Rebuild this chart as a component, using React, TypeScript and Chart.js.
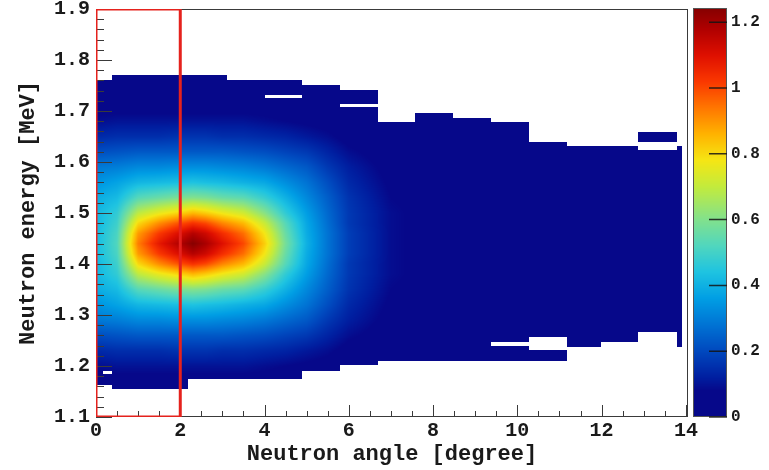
import { useEffect, useRef } from 'react';
import { Chart, registerables } from 'chart.js';

Chart.register(...registerables);

// Sampling nodes of the intensity table
const angleNodes = [0, 0.5, 1, 1.5, 2, 2.3, 2.6, 3, 3.5, 4, 4.5, 5, 5.5, 6, 7, 8, 9, 10, 12, 14];
const energyNodes = [
  1.14, 1.17, 1.2, 1.23, 1.26, 1.29, 1.32, 1.35, 1.38, 1.4, 1.42, 1.44, 1.46,
  1.48, 1.5, 1.53, 1.56, 1.59, 1.62, 1.65, 1.68, 1.71, 1.74, 1.77, 1.8,
];

// Intensity, one row per energy node, one entry per angle node
const intensity = [
  [0.04, 0.04, 0.04, 0.04, 0.04, 0.04, 0.04, 0.04, 0.04, 0.04, 0.03, 0.03, 0.02, 0.02, 0.01, 0.01, 0.00, 0.00, 0.00, 0.00],
  [0.06, 0.06, 0.06, 0.06, 0.06, 0.06, 0.06, 0.06, 0.06, 0.06, 0.05, 0.05, 0.04, 0.02, 0.01, 0.01, 0.01, 0.01, 0.00, 0.00],
  [0.09, 0.10, 0.10, 0.10, 0.10, 0.10, 0.10, 0.10, 0.10, 0.09, 0.08, 0.07, 0.06, 0.04, 0.02, 0.01, 0.01, 0.01, 0.01, 0.01],
  [0.14, 0.15, 0.15, 0.15, 0.16, 0.16, 0.16, 0.15, 0.15, 0.14, 0.13, 0.11, 0.09, 0.06, 0.03, 0.02, 0.02, 0.01, 0.01, 0.01],
  [0.21, 0.22, 0.23, 0.23, 0.23, 0.23, 0.23, 0.23, 0.22, 0.21, 0.19, 0.17, 0.13, 0.09, 0.05, 0.03, 0.03, 0.02, 0.02, 0.02],
  [0.29, 0.30, 0.32, 0.32, 0.33, 0.33, 0.33, 0.32, 0.31, 0.29, 0.26, 0.23, 0.17, 0.12, 0.06, 0.04, 0.03, 0.03, 0.02, 0.02],
  [0.34, 0.37, 0.41, 0.42, 0.43, 0.44, 0.43, 0.42, 0.40, 0.38, 0.33, 0.28, 0.21, 0.14, 0.07, 0.05, 0.04, 0.03, 0.03, 0.02],
  [0.39, 0.42, 0.53, 0.56, 0.59, 0.60, 0.59, 0.56, 0.54, 0.48, 0.40, 0.32, 0.24, 0.16, 0.08, 0.06, 0.05, 0.04, 0.03, 0.03],
  [0.41, 0.47, 0.69, 0.76, 0.81, 0.85, 0.82, 0.77, 0.72, 0.61, 0.47, 0.36, 0.26, 0.17, 0.09, 0.06, 0.05, 0.04, 0.03, 0.03],
  [0.41, 0.49, 0.80, 0.91, 0.99, 1.03, 1.00, 0.92, 0.85, 0.71, 0.53, 0.38, 0.27, 0.17, 0.09, 0.06, 0.05, 0.04, 0.03, 0.03],
  [0.42, 0.51, 0.89, 1.02, 1.11, 1.17, 1.13, 1.04, 0.95, 0.78, 0.56, 0.39, 0.28, 0.18, 0.09, 0.06, 0.05, 0.04, 0.03, 0.03],
  [0.42, 0.52, 0.93, 1.08, 1.18, 1.24, 1.19, 1.10, 1.00, 0.82, 0.58, 0.40, 0.28, 0.18, 0.09, 0.06, 0.05, 0.04, 0.04, 0.03],
  [0.42, 0.51, 0.89, 1.02, 1.11, 1.17, 1.13, 1.04, 0.95, 0.78, 0.56, 0.39, 0.28, 0.18, 0.09, 0.06, 0.05, 0.04, 0.03, 0.03],
  [0.41, 0.49, 0.80, 0.91, 0.99, 1.03, 1.00, 0.92, 0.85, 0.71, 0.53, 0.38, 0.27, 0.17, 0.09, 0.06, 0.05, 0.04, 0.03, 0.03],
  [0.41, 0.47, 0.69, 0.76, 0.81, 0.85, 0.82, 0.77, 0.72, 0.61, 0.47, 0.36, 0.26, 0.17, 0.09, 0.06, 0.05, 0.04, 0.03, 0.03],
  [0.39, 0.42, 0.53, 0.56, 0.59, 0.60, 0.59, 0.56, 0.54, 0.48, 0.40, 0.32, 0.24, 0.16, 0.08, 0.06, 0.05, 0.04, 0.03, 0.03],
  [0.34, 0.37, 0.41, 0.42, 0.43, 0.44, 0.43, 0.42, 0.40, 0.38, 0.33, 0.28, 0.21, 0.14, 0.07, 0.05, 0.04, 0.03, 0.03, 0.02],
  [0.29, 0.30, 0.32, 0.32, 0.33, 0.33, 0.33, 0.32, 0.31, 0.29, 0.26, 0.23, 0.17, 0.12, 0.06, 0.04, 0.03, 0.03, 0.02, 0.02],
  [0.21, 0.22, 0.23, 0.23, 0.23, 0.23, 0.23, 0.23, 0.22, 0.21, 0.19, 0.17, 0.13, 0.09, 0.05, 0.03, 0.03, 0.02, 0.02, 0.02],
  [0.14, 0.15, 0.15, 0.15, 0.16, 0.16, 0.16, 0.15, 0.15, 0.14, 0.13, 0.11, 0.09, 0.06, 0.03, 0.02, 0.02, 0.01, 0.01, 0.01],
  [0.09, 0.10, 0.10, 0.10, 0.10, 0.10, 0.10, 0.10, 0.10, 0.09, 0.08, 0.07, 0.06, 0.04, 0.02, 0.01, 0.01, 0.01, 0.01, 0.01],
  [0.06, 0.06, 0.06, 0.06, 0.06, 0.06, 0.06, 0.06, 0.06, 0.06, 0.05, 0.05, 0.04, 0.02, 0.01, 0.01, 0.01, 0.01, 0.00, 0.00],
  [0.04, 0.04, 0.04, 0.04, 0.04, 0.04, 0.04, 0.04, 0.04, 0.04, 0.03, 0.03, 0.02, 0.02, 0.01, 0.01, 0.00, 0.00, 0.00, 0.00],
  [0.03, 0.03, 0.03, 0.03, 0.03, 0.03, 0.03, 0.03, 0.03, 0.03, 0.02, 0.02, 0.02, 0.01, 0.01, 0.00, 0.00, 0.00, 0.00, 0.00],
  [0.02, 0.02, 0.02, 0.02, 0.02, 0.02, 0.02, 0.02, 0.02, 0.02, 0.02, 0.02, 0.01, 0.01, 0.00, 0.00, 0.00, 0.00, 0.00, 0.00],
];

// Angle columns of the filled region and their energy limits
const columnEdges = [0, 0.38, 2.18, 3.11, 4.01, 4.89, 5.79, 6.69, 7.57, 8.47, 9.38, 10.28, 11.18, 11.98, 12.86, 13.78, 13.9];
const columnLow = [1.163, 1.155, 1.175, 1.175, 1.175, 1.19, 1.202, 1.21, 1.21, 1.21, 1.21, 1.21, 1.237, 1.247, 1.267, 1.237];
const columnHigh = [1.761, 1.771, 1.771, 1.761, 1.761, 1.751, 1.741, 1.678, 1.696, 1.686, 1.678, 1.639, 1.631, 1.631, 1.624, 1.631];

// Empty bands inside the region: [angle from, angle to, energy from, energy to]
const emptyBands = [
  [0.17, 0.38, 1.184, 1.19],
  [4.01, 4.89, 1.726, 1.732],
  [5.79, 6.69, 1.707, 1.713],
  [9.38, 10.28, 1.24, 1.247],
  [10.28, 11.18, 1.231, 1.257],
];
// Detached filled patches: [angle from, angle to, energy from, energy to]
const extraPatches = [[12.86, 13.78, 1.639, 1.659]];

// Selection window
const windowAngle = [0, 0, 2, 2, 0];
const windowEnergy = [1.1, 1.9, 1.9, 1.1, 1.1];

// Colour palette
const paletteLevels = [0, 0.08, 0.12, 0.2, 0.28, 0.36, 0.44, 0.52, 0.6, 0.7, 0.78, 0.86, 0.94, 1.02, 1.1, 1.18, 1.24];
const paletteColours = [
  [6, 8, 138], [6, 8, 138], [0, 30, 160], [0, 72, 190], [0, 115, 212], [0, 158, 228],
  [30, 195, 225], [80, 214, 190], [130, 225, 140], [195, 235, 60], [245, 230, 20],
  [255, 178, 0], [255, 118, 0], [250, 55, 0], [222, 15, 0], [175, 0, 0], [135, 0, 0],
];

const angleTicks = [0, 2, 4, 6, 8, 10, 12, 14];
const energyTicks = [1.1, 1.2, 1.3, 1.4, 1.5, 1.6, 1.7, 1.8, 1.9];
const scaleTicks = [0, 0.2, 0.4, 0.6, 0.8, 1, 1.2];

const FONT = "'Liberation Mono', 'DejaVu Sans Mono', monospace";
const INK = '#1a1a1a';

function locate(nodes: number[], v: number): [number, number] {
  if (v <= nodes[0]) return [0, 0];
  const n = nodes.length - 1;
  if (v >= nodes[n]) return [n - 1, 1];
  let i = 0;
  while (nodes[i + 1] < v) i++;
  return [i, (v - nodes[i]) / (nodes[i + 1] - nodes[i])];
}

function sample(a: number, e: number): number {
  const [i, tx] = locate(angleNodes, a);
  const [j, ty] = locate(energyNodes, e);
  const v00 = intensity[j][i];
  const v10 = intensity[j][i + 1];
  const v01 = intensity[j + 1][i];
  const v11 = intensity[j + 1][i + 1];
  return (v00 * (1 - tx) + v10 * tx) * (1 - ty) + (v01 * (1 - tx) + v11 * tx) * ty;
}

function colourFor(v: number): number[] {
  const [i, t] = locate(paletteLevels, v);
  const c0 = paletteColours[i];
  const c1 = paletteColours[i + 1];
  return [0, 1, 2].map((k) => Math.round(c0[k] + (c1[k] - c0[k]) * t));
}

function isFilled(a: number, e: number): boolean {
  for (const p of extraPatches) {
    if (a >= p[0] && a < p[1] && e >= p[2] && e <= p[3]) return true;
  }
  let col = -1;
  for (let i = 0; i < columnEdges.length - 1; i++) {
    if (a >= columnEdges[i] && a < columnEdges[i + 1]) { col = i; break; }
  }
  if (col < 0) return false;
  if (e < columnLow[col] || e > columnHigh[col]) return false;
  for (const g of emptyBands) {
    if (a >= g[0] && a < g[1] && e >= g[2] && e <= g[3]) return false;
  }
  return true;
}

const heatmapPlugin = {
  id: 'heatmap',
  beforeDatasetsDraw(chart: any) {
    const { ctx, chartArea: area, scales } = chart;
    const xs = scales.x;
    const ys = scales.y;
    const w = Math.round(area.right - area.left);
    const h = Math.round(area.bottom - area.top);
    const off = document.createElement('canvas');
    off.width = w;
    off.height = h;
    const octx = off.getContext('2d')!;
    const img = octx.createImageData(w, h);
    for (let px = 0; px < w; px++) {
      const a = xs.getValueForPixel(area.left + px + 0.5);
      for (let py = 0; py < h; py++) {
        const e = ys.getValueForPixel(area.top + py + 0.5);
        if (!isFilled(a, e)) continue;
        const c = colourFor(sample(a, e));
        const k = (py * w + px) * 4;
        img.data[k] = c[0];
        img.data[k + 1] = c[1];
        img.data[k + 2] = c[2];
        img.data[k + 3] = 255;
      }
    }
    octx.putImageData(img, 0, 0);
    ctx.drawImage(off, area.left, area.top);

    // frame and inward ticks
    ctx.save();
    ctx.strokeStyle = '#3a3a3a';
    ctx.lineWidth = 1;
    ctx.strokeRect(area.left + 0.5, area.top + 0.5, area.right - area.left - 1, area.bottom - area.top - 1);
    ctx.beginPath();
    for (let k = 0; k <= 40; k++) {
      const e = 1.1 + k * 0.02;
      const y = Math.round(ys.getPixelForValue(e)) + 0.5;
      const len = k % 5 === 0 ? 16 : 8;
      ctx.moveTo(area.left, y);
      ctx.lineTo(area.left + len, y);
    }
    for (let k = 0; k <= 28; k++) {
      const a = k * 0.5;
      const x = Math.round(xs.getPixelForValue(a)) + 0.5;
      const len = k % 4 === 0 ? 12 : 6;
      ctx.moveTo(x, area.bottom);
      ctx.lineTo(x, area.bottom - len);
    }
    ctx.stroke();
    ctx.restore();
  },
};

const colourBarPlugin = {
  id: 'colourBar',
  afterDraw(chart: any) {
    const { ctx } = chart;
    const z = chart.scales.colz;
    const x0 = z.left + 5;
    const x1 = z.left + 39;
    const top = Math.floor(z.top) - 1;
    const bottom = Math.ceil(z.bottom);
    ctx.save();
    for (let py = top; py < bottom; py++) {
      const v = Math.max(0, Math.min(1.24, z.getValueForPixel(py + 0.5)));
      const c = colourFor(v);
      ctx.fillStyle = `rgb(${c[0]},${c[1]},${c[2]})`;
      ctx.fillRect(x0, py, x1 - x0, 1);
    }
    ctx.strokeStyle = '#555';
    ctx.lineWidth = 1;
    ctx.strokeRect(x0 + 0.5, top + 0.5, x1 - x0 - 1, bottom - top - 1);
    ctx.strokeStyle = 'rgba(20,20,20,0.85)';
    ctx.lineWidth = 1.5;
    ctx.beginPath();
    for (const t of scaleTicks) {
      const y = z.getPixelForValue(t);
      ctx.moveTo(x1 - 18, y);
      ctx.lineTo(x1, y);
    }
    ctx.stroke();
    ctx.restore();
  },
};

const fmt = (v: number) => String(Number(v.toFixed(1)));

// keep tick-label overhang from shrinking the plotting area
const noOverhang = (s: any) => {
  s.paddingTop = 0;
  s.paddingBottom = 0;
  s.paddingLeft = 0;
  s.paddingRight = 0;
};

export default function App() {
  const ref = useRef<HTMLCanvasElement | null>(null);

  useEffect(() => {
    if (!ref.current) return;
    const chart = new Chart(ref.current, {
      type: 'scatter',
      data: {
        datasets: [
          {
            data: windowAngle.map((a, i) => ({ x: a, y: windowEnergy[i] })),
            showLine: true,
            borderColor: '#e5221d',
            borderWidth: 3,
            pointRadius: 0,
            tension: 0,
            fill: false,
            yAxisID: 'y',
          },
        ],
      },
      options: {
        animation: false,
        responsive: false,
        events: [],
        layout: { padding: { top: 9, left: 0, right: 0, bottom: 0 } },
        plugins: { legend: { display: false }, tooltip: { enabled: false } },
        scales: {
          x: {
            type: 'linear',
            position: 'bottom',
            min: 0,
            max: 14.05,
            grid: { display: false, drawTicks: false },
            border: { display: false },
            afterBuildTicks: (s: any) => { s.ticks = angleTicks.map((v) => ({ value: v })); },
            ticks: {
              padding: 2,
              color: INK,
              maxRotation: 0,
              autoSkip: false,
              font: { family: FONT, size: 20, weight: 'bold' },
              callback: (v: any) => String(v),
            },
            title: {
              display: true,
              text: 'Neutron angle [degree]',
              color: INK,
              font: { family: FONT, size: 22, weight: 'bold' },
              padding: { top: 0, bottom: 2 },
            },
            afterFit: (s: any) => { s.height = 53; noOverhang(s); },
          },
          y: {
            type: 'linear',
            position: 'left',
            min: 1.1,
            max: 1.9,
            grid: { display: false, drawTicks: false },
            border: { display: false },
            afterBuildTicks: (s: any) => { s.ticks = energyTicks.map((v) => ({ value: v })); },
            ticks: {
              padding: 6,
              color: INK,
              autoSkip: false,
              font: { family: FONT, size: 20, weight: 'bold' },
              callback: (v: any) => Number(v).toFixed(1),
            },
            title: {
              display: true,
              text: 'Neutron energy [MeV]',
              color: INK,
              font: { family: FONT, size: 22, weight: 'bold' },
              padding: { top: 15, bottom: 0 },
            },
            afterFit: (s: any) => { s.width = 96; noOverhang(s); },
          },
          colz: {
            type: 'linear',
            axis: 'y',
            position: 'right',
            min: 0,
            max: 1.24,
            grid: { display: false, drawTicks: false },
            border: { display: false },
            afterBuildTicks: (s: any) => { s.ticks = scaleTicks.map((v) => ({ value: v })); },
            ticks: {
              padding: 43,
              color: INK,
              autoSkip: false,
              font: { family: FONT, size: 16, weight: 'bold' },
              callback: (v: any) => fmt(Number(v)),
            },
            afterFit: (s: any) => { s.width = 81; noOverhang(s); },
          },
        },
      } as any,
      plugins: [heatmapPlugin, colourBarPlugin],
    });
    return () => chart.destroy();
  }, []);

  return (
    <div style={{ position: 'absolute', left: 0, top: 0, width: 769, height: 470, background: '#fff' }}>
      <canvas ref={ref} width={769} height={470} style={{ display: 'block' }} />
    </div>
  );
}
